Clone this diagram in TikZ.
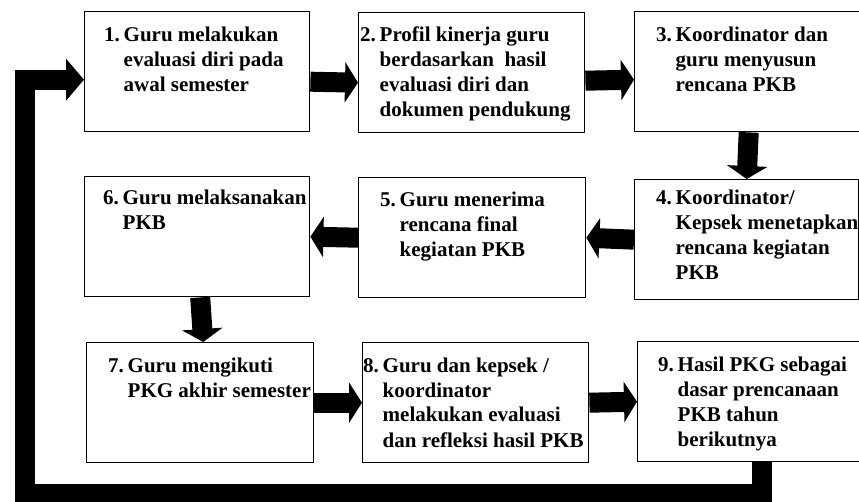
\documentclass[tikz,border=0pt]{standalone}
\usepackage{fontspec}
\setmainfont{Liberation Serif}
\usetikzlibrary{arrows.meta}

\newcommand{\numtext}[2]{\makebox[19.5pt][l]{#1}\begin{tabular}[t]{@{}l@{}}#2\end{tabular}}

\begin{document}
\begin{tikzpicture}[
  x=1pt, y=-1pt,
  font=\fontsize{21}{25}\selectfont\bfseries,
  box/.style={draw, line width=1.4pt, minimum width=#1, minimum height=120pt,
              anchor=north west, inner sep=0pt},
  txt/.style={anchor=base west, inner sep=0pt},
  blk/.style={line width=20pt, -{Triangle[length=13pt,width=40pt]}},
]
  \clip (0,0) rectangle (859,502);

  % boxes, row by row
  \node[box=225] (b1) at (84,11)   {};
  \node[box=226] (b2) at (358,12)  {};
  \node[box=228] (b3) at (634,11)  {};
  \node[box=224] (b4) at (634,179) {};
  \node[box=227] (b5) at (358,177) {};
  \node[box=225] (b6) at (84,176)  {};
  \node[box=227] (b7) at (86,342)  {};
  \node[box=226] (b8) at (362,342) {};
  \node[box=226] (b9) at (637,341) {};

  \node[txt] (t1) at (104,42)  {\numtext{1.}{Guru melakukan\\evaluasi diri pada\\awal semester}};
  \node[txt] (t2) at (360,42)  {\numtext{2.}{Profil kinerja guru\\berdasarkan~ hasil\\evaluasi diri dan\\dokumen pendukung}};
  \node[txt] (t3) at (656,42)  {\numtext{3.}{Koordinator dan\\guru menyusun\\rencana PKB}};
  \node[txt] (t4) at (656,205) {\numtext{4.}{Koordinator/\\Kepsek menetapkan\\rencana kegiatan\\PKB}};
  \node[txt] (t5) at (380,207) {\numtext{5.}{Guru menerima\\rencana final\\kegiatan PKB}};
  \node[txt] (t6) at (103,205) {\numtext{6.}{Guru melaksanakan\\PKB}};
  \node[txt] (t7) at (108,372) {\numtext{7.}{Guru mengikuti\\PKG akhir semester}};
  \node[txt] (t8) at (363,372) {\numtext{8.}{Guru dan kepsek /\\koordinator\\melakukan evaluasi\\dan refleksi hasil PKB}};
  \node[txt] (t9) at (658,371) {\numtext{9.}{Hasil PKG sebagai\\dasar prencanaan\\PKB tahun\\berikutnya}};

  \draw[blk] ([yshift=-10pt]b1.east) -- ([yshift=-10pt]b2.west);
  \draw[blk] ([yshift=-8pt]b2.east) -- ([yshift=-8pt]b3.west);
  \draw[blk] (b3.south) -- (b4.north);
  \draw[blk] (b4.west) -- (b5.east);
  \draw[blk] (b5.west) -- (b6.east);
  \draw[blk] ([xshift=3pt]b6.south) -- ([xshift=3pt]b7.north);
  \draw[blk] (b7.east) -- (b8.west);
  \draw[blk] (b8.east) -- (b9.west);

  % back to the start
  \coordinate (loopbot) at (25,494);
  \draw[line width=20pt, -{Triangle[length=18pt,width=41pt]}]
    ([xshift=11pt]b9.south) |- (loopbot) |- ([yshift=-8pt]b1.west);
\end{tikzpicture}
\end{document}
